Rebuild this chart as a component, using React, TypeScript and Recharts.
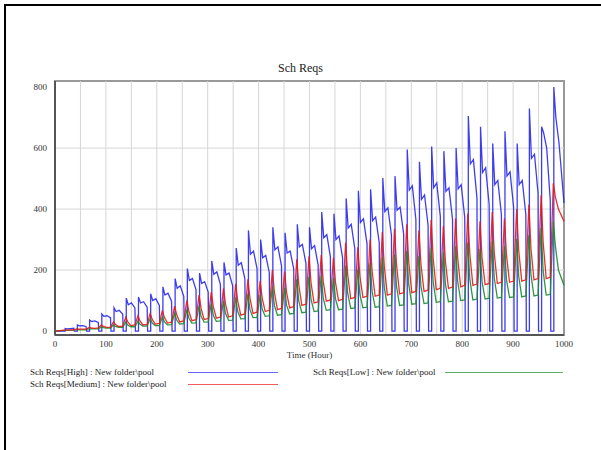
import React from 'react';
import { LineChart, Line, XAxis, YAxis, ReferenceLine, ReferenceArea, Legend } from 'recharts';

// hour at which the High pool refills each day (it sits at 0 for the 6h before)
const cycleStart = [20, 44, 68, 92, 116, 140, 164, 188, 212, 236, 260, 284, 308, 332, 356, 380, 404, 428, 452, 476, 500, 524, 548, 572, 596, 620, 644, 668, 692, 716, 740, 764, 788, 812, 836, 860, 884, 908, 932, 956, 980];

// Sch Reqs[High]: value at refill, +4h, +10h, +17h
const highPeak = [8, 20, 36, 56, 76, 108, 112, 122, 145, 172, 205, 190, 230, 225, 272, 330, 300, 340, 322, 350, 340, 390, 385, 435, 460, 465, 502, 508, 595, 555, 605, 590, 600, 705, 670, 615, 655, 615, 730, 670, 800];
const highMid = [7, 17, 31, 48, 64, 86, 92, 100, 118, 140, 166, 156, 186, 184, 216, 252, 240, 266, 256, 276, 270, 306, 300, 338, 356, 362, 392, 396, 462, 432, 470, 458, 466, 548, 520, 480, 508, 480, 566, 650, 700];
const highLate = [8, 18, 33, 50, 68, 92, 96, 106, 124, 148, 172, 162, 194, 190, 224, 262, 248, 276, 262, 284, 280, 316, 312, 350, 368, 374, 404, 406, 476, 446, 486, 470, 480, 562, 536, 494, 522, 494, 580, 600, 620];
const highEnd = [9, 15, 28, 44, 56, 76, 78, 84, 98, 114, 136, 128, 152, 148, 172, 204, 192, 214, 204, 222, 216, 244, 240, 270, 286, 290, 314, 318, 366, 346, 376, 366, 372, 436, 414, 382, 406, 382, 452, 430, 420];

// Sch Reqs[Medium]: spike just before refill, +3h, +9h, +17h
const medPeak = [3, 7, 12, 20, 30, 45, 50, 58, 68, 82, 100, 118, 128, 140, 155, 170, 165, 200, 195, 235, 245, 250, 240, 290, 275, 300, 325, 335, 350, 330, 365, 345, 370, 385, 360, 390, 370, 400, 415, 445, 485];
const medMid = [3, 6, 10, 15, 21, 30, 33, 38, 44, 54, 64, 74, 80, 88, 98, 108, 108, 128, 126, 150, 158, 162, 160, 186, 180, 196, 210, 216, 226, 218, 238, 228, 242, 252, 240, 256, 248, 264, 272, 292, 440];
const medBase = [4, 6, 9, 12, 15, 18, 20, 23, 26, 30, 34, 38, 42, 46, 52, 58, 64, 70, 76, 84, 92, 98, 100, 106, 110, 114, 118, 122, 126, 130, 136, 140, 145, 150, 152, 156, 160, 164, 168, 172, 400];
const medEnd = [4, 6, 10, 13, 16, 20, 22, 25, 29, 33, 37, 41, 46, 50, 56, 62, 68, 74, 80, 88, 96, 102, 104, 110, 114, 118, 122, 126, 130, 134, 140, 144, 150, 154, 156, 160, 164, 168, 172, 176, 360];

// Sch Reqs[Low]
const lowPeak = [2, 4, 8, 13, 20, 30, 33, 40, 46, 58, 70, 82, 90, 98, 110, 122, 118, 146, 142, 170, 178, 182, 174, 214, 202, 222, 242, 250, 262, 246, 274, 258, 278, 290, 270, 294, 278, 302, 314, 338, 360];
const lowMid = [2, 4, 7, 11, 15, 20, 22, 26, 30, 36, 42, 48, 52, 58, 64, 70, 72, 84, 84, 98, 104, 108, 106, 124, 120, 130, 142, 146, 152, 146, 160, 154, 164, 170, 162, 174, 168, 180, 186, 198, 280];
const lowBase = [2, 4, 7, 10, 12, 14, 16, 18, 20, 23, 26, 29, 32, 35, 40, 44, 48, 52, 56, 60, 64, 68, 70, 74, 76, 78, 82, 84, 88, 90, 94, 96, 100, 102, 105, 108, 110, 112, 115, 118, 200];
const lowEnd = [3, 4, 7, 10, 12, 14, 16, 18, 21, 24, 27, 30, 33, 36, 41, 45, 50, 54, 58, 62, 66, 70, 72, 76, 78, 80, 84, 86, 90, 92, 96, 98, 102, 105, 108, 110, 112, 115, 118, 120, 150];

const xTicks = [0, 100, 200, 300, 400, 500, 600, 700, 800, 900, 1000];
const xGrid = [50, 100, 150, 200, 250, 300, 350, 400, 450, 500, 550, 600, 650, 700, 750, 800, 850, 900, 950];
const yTicks = [0, 200, 400, 600, 800];
const yGrid = [200, 400, 600];

const END = 1000;
const last = cycleStart.length - 1;

type Pt = { t: number; v: number };

const highData: Pt[] = [{ t: 0, v: 0 }];
cycleStart.forEach((r, i) => {
  highData.push({ t: r, v: 0 }, { t: r, v: highPeak[i] }, { t: r + 4, v: highMid[i] }, { t: r + 10, v: highLate[i] });
  if (i === last) {
    highData.push({ t: END, v: highEnd[i] });
  } else {
    highData.push({ t: r + 17, v: highEnd[i] }, { t: r + 18, v: 0 });
  }
});

function spikes(peak: number[], mid: number[], base: number[], end: number[]): Pt[] {
  const pts: Pt[] = [{ t: 0, v: 0 }];
  cycleStart.forEach((r, i) => {
    pts.push({ t: r - 1, v: peak[i] }, { t: r + 3, v: mid[i] }, { t: r + 9, v: base[i] });
    pts.push({ t: i === last ? END : r + 17, v: end[i] });
  });
  return pts;
}

const medData = spikes(medPeak, medMid, medBase, medEnd);
const lowData = spikes(lowPeak, lowMid, lowBase, lowEnd);

const series = [
  { name: 'Sch Reqs[High] : New folder\\pool', color: '#2828ec', data: highData },
  { name: 'Sch Reqs[Low] : New folder\\pool', color: '#1a8a2a', data: lowData },
  { name: 'Sch Reqs[Medium] : New folder\\pool', color: '#e81818', data: medData },
];

const font = '"Liberation Serif", "Times New Roman", serif';

function VensimLegend() {
  const item = (s: typeof series[number], left: number, top: number, lineLeft: number, lineRight: number) => (
    <div key={s.name}>
      <span style={{ position: 'absolute', left, top, fontSize: 9, color: '#222', whiteSpace: 'nowrap', lineHeight: '10px' }}>{s.name}</span>
      <div style={{ position: 'absolute', left: lineLeft, top: top + 5, width: lineRight - lineLeft, borderTop: `1px solid ${s.color}`, opacity: 0.7 }} />
    </div>
  );
  return (
    <div style={{ position: 'relative', width: 601, height: 30, fontFamily: font }}>
      {item(series[0], 30, 0, 188, 278)}
      {item(series[1], 313, 0, 445, 563)}
      {item(series[2], 30, 12, 188, 278)}
    </div>
  );
}

export default function App() {
  return (
    <div style={{ position: 'absolute', left: 0, top: 0, width: 601, height: 450, overflow: 'hidden', background: '#fff', fontFamily: font }}>
      <div style={{ position: 'absolute', left: 4, top: 4, width: 800, height: 600, borderTop: '2px solid #000', borderLeft: '2px solid #000' }} />
      <div style={{ position: 'absolute', left: 0, top: 61, width: 601, textAlign: 'center', fontSize: 12, color: '#222' }}>Sch Reqs</div>
      <LineChart width={601} height={450} margin={{ top: 81, right: 37, bottom: 95, left: 0 }} style={{ position: 'absolute', left: 0, top: 0 }}>
        <XAxis
          type="number"
          dataKey="t"
          domain={[0, END]}
          ticks={xTicks}
          height={20}
          tickLine={false}
          tickMargin={0}
          axisLine={{ stroke: '#555', strokeWidth: 2 }}
          tick={{ fontSize: 9, fill: '#333', fontFamily: font }}
          allowDuplicatedCategory={false}
          label={{ value: 'Time (Hour)', position: 'bottom', offset: -3, fontSize: 9, fill: '#333', fontFamily: font }}
        />
        <YAxis
          type="number"
          domain={[-13, 820]}
          ticks={yTicks}
          width={55}
          tickLine={false}
          axisLine={{ stroke: '#555', strokeWidth: 2 }}
          tick={{ fontSize: 9, fill: '#333', fontFamily: font }}
          allowDataOverflow
        />
        {xGrid.map((x) => (
          <ReferenceLine key={'x' + x} x={x} stroke="#d6d6d6" strokeWidth={1} />
        ))}
        {yGrid.map((y) => (
          <ReferenceLine key={'y' + y} y={y} stroke="#d6d6d6" strokeWidth={1} />
        ))}
        <ReferenceArea x1={0} x2={END} y1={-13} y2={820} fill="none" stroke="#999" strokeWidth={2} />
        {series.map((s) => (
          <Line
            key={s.name}
            data={s.data}
            dataKey="v"
            name={s.name}
            type="linear"
            stroke={s.color}
            strokeWidth={1.3}
            strokeOpacity={0.9}
            dot={false}
            isAnimationActive={false}
          />
        ))}
        <Legend layout="horizontal" verticalAlign="middle" wrapperStyle={{ left: 0, top: 367, width: 601 }} content={() => <VensimLegend />} />
      </LineChart>
    </div>
  );
}
